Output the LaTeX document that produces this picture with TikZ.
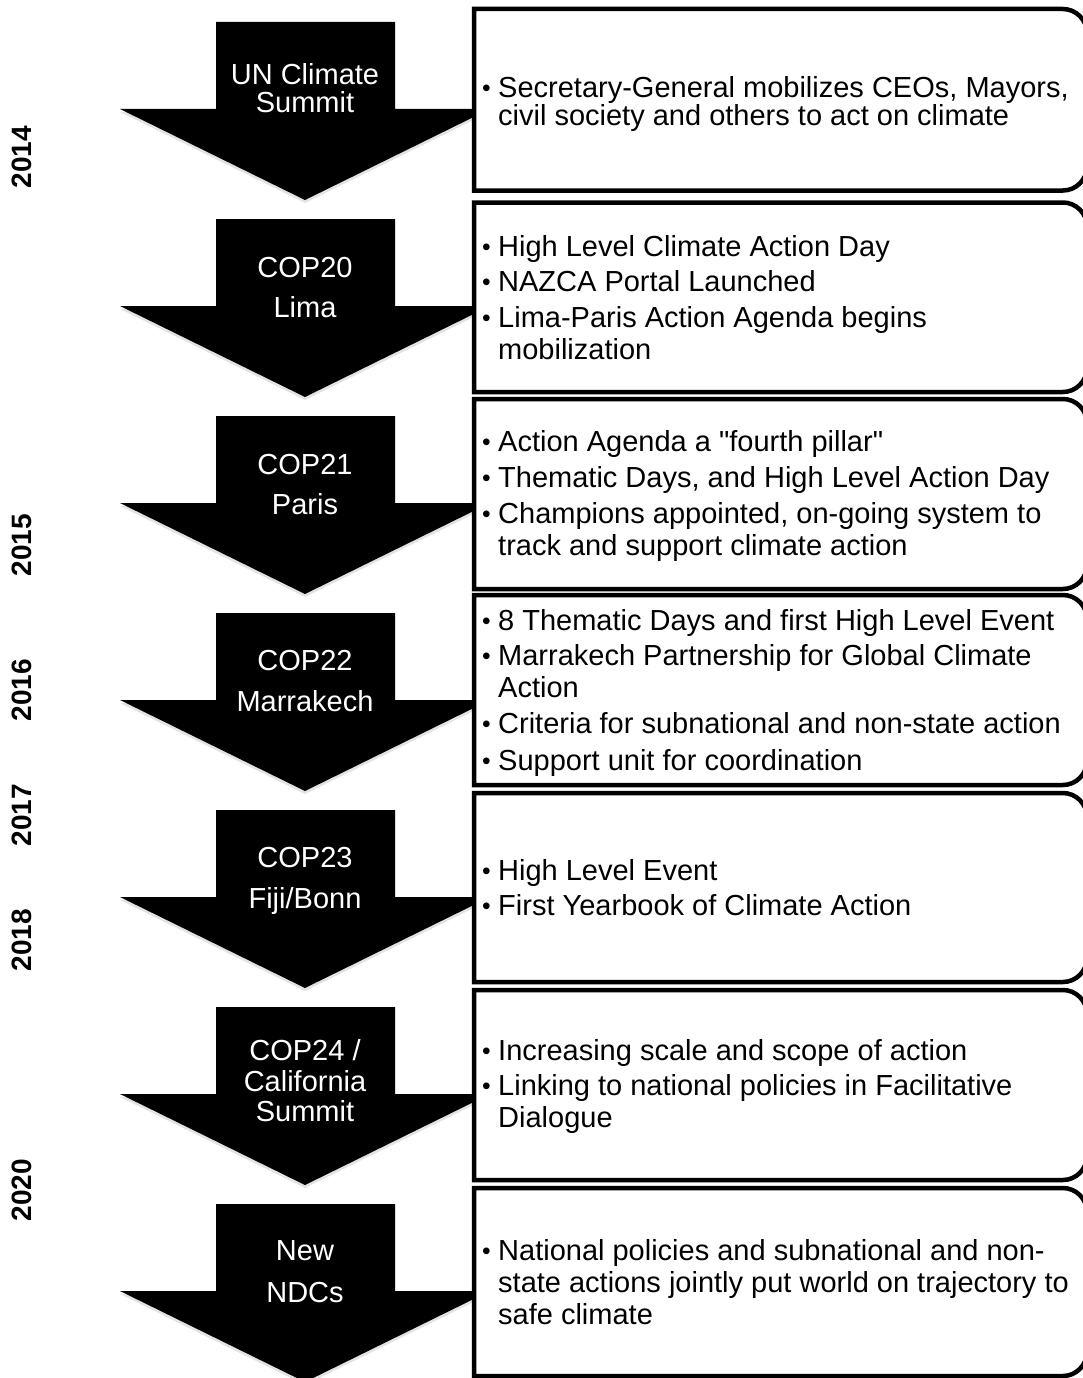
\documentclass[tikz,border=0pt]{standalone}
\usepackage{fontspec}
\setmainfont{Liberation Sans}[Ligatures=TeXOff]
\usetikzlibrary{shadows}
\newcommand\bl{\makebox[18pt][l]{\hspace*{2pt}\raisebox{1pt}{\scalebox{0.85}{•}}}}
\newcommand\cl{\hspace*{18pt}}
\newcommand\tlarrow[1]{%
  \fill[arrowshape] (216,#1) -- (395,#1) -- (395,#1+87) -- (490,#1+87) -- (305,#1+178) -- (120,#1+87) -- (216,#1+87) -- cycle;}
\newcommand\tlbox[2]{%
  \draw[boxshape] (474,#1) -- (1063,#1) .. controls (1076,#1) and (1087,#1+11) .. (1087,#1+24) -- (1087,#2-24) .. controls (1087,#2-11) and (1076,#2) .. (1063,#2) -- (474,#2) -- cycle;}
\begin{document}
\begin{tikzpicture}[x=1pt,y=-1pt,
  arrowshape/.style={fill=black, drop shadow={opacity=0.22, shadow xshift=0pt, shadow yshift=-3pt}},
  boxshape/.style={draw=black, line width=4.5pt, fill=white, line join=miter},
  arrowlabel/.style={text=white, font=\fontsize{29}{32}\selectfont, anchor=base, inner sep=0pt},
  boxtext/.style={font=\fontsize{29}{32}\selectfont, align=left, anchor=west, inner sep=0pt},
  yearlabel/.style={font=\fontsize{28}{32}\selectfont\bfseries, rotate=90, inner sep=0pt}
]
\useasboundingbox (0,0) rectangle (1083,1378);

% arrows
\tlarrow{22}
\tlarrow{219}
\tlarrow{416}
\tlarrow{613}
\tlarrow{810}
\tlarrow{1007}
\tlarrow{1204}

% boxes
\tlbox{9}{190.5}
\tlbox{202.5}{392}
\tlbox{399}{589}
\tlbox{595}{785}
\tlbox{793}{982}
\tlbox{990}{1180}
\tlbox{1188}{1376}

% arrow labels
\node[arrowlabel] (a1l1) at (305,85) {UN Climate};
\node[arrowlabel] (a1l2) at (305,113) {Summit};
\node[arrowlabel] (a2l1) at (305,277) {COP20};
\node[arrowlabel] (a2l2) at (305,317) {Lima};
\node[arrowlabel] (a3l1) at (305,474) {COP21};
\node[arrowlabel] (a3l2) at (305,514) {Paris};
\node[arrowlabel] (a4l1) at (305,670) {COP22};
\node[arrowlabel] (a4l2) at (305,711) {Marrakech};
\node[arrowlabel] (a5l1) at (305,867) {COP23};
\node[arrowlabel] (a5l2) at (305,908) {Fiji/Bonn};
\node[arrowlabel] (a6l1) at (305,1060) {COP24 /};
\node[arrowlabel] (a6l2) at (305,1091) {California};
\node[arrowlabel] (a6l3) at (305,1121) {Summit};
\node[arrowlabel] (a7l1) at (305,1260) {New};
\node[arrowlabel] (a7l2) at (305,1302) {NDCs};

% box texts
\node[boxtext] (b1) at (480,104) {\bl Secretary-General mobilizes CEOs, Mayors,\\[-4pt]\cl civil society and others to act on climate};
\node[boxtext] (b2) at (480,298) {\bl High Level Climate Action Day\\[3pt]\bl NAZCA Portal Launched\\[4pt]\bl Lima-Paris Action Agenda begins\\\cl mobilization};
\node[boxtext] (b3) at (480,496) {\bl Action Agenda a "fourth pillar"\\[4pt]\bl Thematic Days, and High Level Action Day\\[4pt]\bl Champions appointed, on-going system to\\\cl track and support climate action};
\node[boxtext] (b4) at (480,693) {\bl 8 Thematic Days and first High Level Event\\[3pt]\bl Marrakech Partnership for Global Climate\\\cl Action\\[4pt]\bl Criteria for subnational and non-state action\\[5pt]\bl Support unit for coordination};
\node[boxtext] (b5) at (480,888) {\bl High Level Event\\[3pt]\bl First Yearbook of Climate Action};
\node[boxtext] (b6) at (480,1086) {\bl Increasing scale and scope of action\\[3pt]\bl Linking to national policies in Facilitative\\\cl Dialogue};
\node[boxtext] (b7) at (480,1282) {\bl National policies and subnational and non-\\\cl state actions jointly put world on trajectory to\\\cl safe climate};

% year labels
\node[yearlabel] (y2014) at (22,157) {2014};
\node[yearlabel] (y2015) at (22,545) {2015};
\node[yearlabel] (y2016) at (22,690) {2016};
\node[yearlabel] (y2017) at (22,815) {2017};
\node[yearlabel] (y2018) at (22,940) {2018};
\node[yearlabel] (y2020) at (22,1190) {2020};
\end{tikzpicture}
\end{document}
